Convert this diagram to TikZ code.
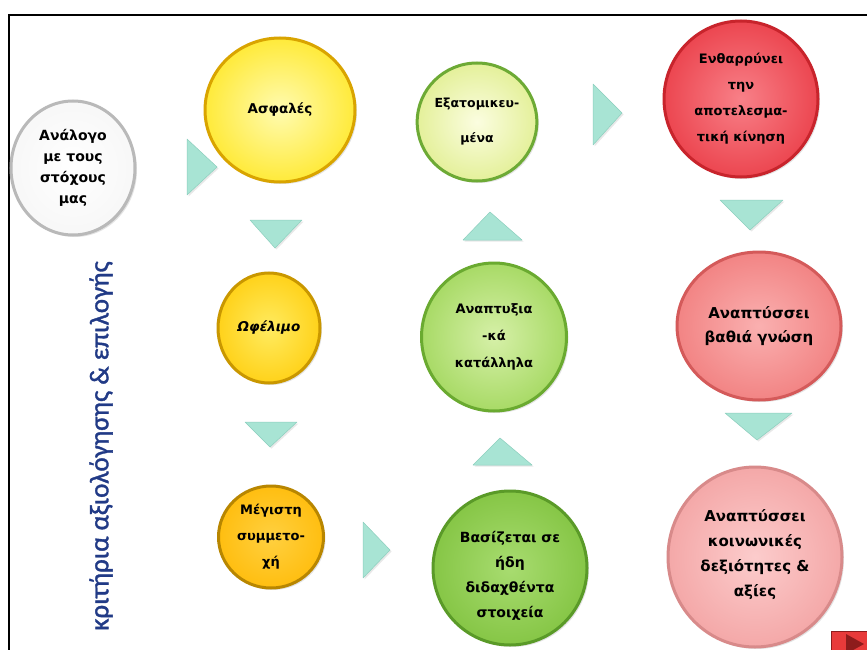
\documentclass[tikz,border=0pt]{standalone}
\usepackage{fontspec}
\setmainfont{DejaVu Sans}
\newfontfamily\vfont[FakeBold=1.3]{Carlito}
\usetikzlibrary{shapes.geometric,shadows}
\definecolor{tricol}{HTML}{A8E4D4}
\definecolor{triedge}{HTML}{8CCFBE}
\definecolor{vblue}{HTML}{213A86}
\definecolor{btnred}{HTML}{E83A3A}
\definecolor{btndark}{HTML}{8E1C1C}
\begin{document}
\begin{tikzpicture}[x=1pt,y=-1pt,
  ball/.style={ellipse, inner sep=0pt, align=center, line width=3pt,
    font=\bfseries\fontsize{13}{25}\selectfont,
    drop shadow={opacity=0.22,shadow xshift=2pt,shadow yshift=-2pt}},
  arrowtri/.style={fill=tricol, draw=triedge, line width=0.5pt, line join=round,
    drop shadow={opacity=0.18,shadow xshift=1.5pt,shadow yshift=-1.5pt}}
]
\useasboundingbox (0,0) rectangle (867,650);
\fill[white] (0,0) rectangle (867,650);
\draw[line width=1.5pt] (9,652) -- (9,15) -- (868,15);

% circles
\node[ball, minimum width=124, minimum height=134, shade, inner color=white, outer color=gray!6, draw=gray!55,
  font=\bfseries\fontsize{14}{21}\selectfont] (n1) at (73,168) {Ανάλογο\\με τους\\στόχους\\μας};
\node[ball, minimum width=150, minimum height=144, shade, inner color={rgb,255:red,255;green,251;blue,176}, outer color={rgb,255:red,255;green,234;blue,58}, draw={rgb,255:red,217;green,164;blue,0},
  font=\bfseries\fontsize{13.5}{25}\selectfont] (n2) at (280,110) {Ασφαλές};
\node[ball, minimum width=102, minimum height=110, shade, inner color={rgb,255:red,255;green,235;blue,96}, outer color={rgb,255:red,255;green,210;blue,26}, draw={rgb,255:red,201;green,151;blue,0},
  font=\bfseries\itshape\fontsize{13.5}{22}\selectfont] (n3) at (269,328) {Ωφέλιμο};
\node[ball, minimum width=105, minimum height=102, shade, inner color={rgb,255:red,255;green,208;blue,64}, outer color={rgb,255:red,255;green,190;blue,16}, draw={rgb,255:red,184;green,134;blue,0},
  font=\bfseries\fontsize{13}{26}\selectfont] (n4) at (271,537) {Μέγιστη\\συμμετο-\\χή};
\node[ball, minimum width=110, minimum height=118, shade, inner color={rgb,255:red,251;green,253;blue,224}, outer color={rgb,255:red,228;green,240;blue,154}, draw={rgb,255:red,109;green,170;blue,53},
  font=\bfseries\fontsize{12.5}{35}\selectfont] (n5) at (477,122) {Εξατομικευ-\\μένα};
\node[ball, minimum width=145, minimum height=148, shade, inner color={rgb,255:red,214;green,240;blue,168}, outer color={rgb,255:red,168;green,218;blue,102}, draw={rgb,255:red,106;green,170;blue,48},
  font=\bfseries\fontsize{13}{27}\selectfont] (n6) at (494,337) {Αναπτυξια\\-κά\\κατάλληλα};
\node[ball, minimum width=154, minimum height=154, shade, inner color={rgb,255:red,168;green,220;blue,112}, outer color={rgb,255:red,134;green,198;blue,70}, draw={rgb,255:red,90;green,154;blue,40}] (n7) at (510,568) {};
\node[align=center, font=\bfseries\fontsize{14}{25}\selectfont] (t7) at (510,576) {Βασίζεται σε\\ήδη\\διδαχθέντα\\στοιχεία};
\node[ball, minimum width=154, minimum height=156, shade, inner color={rgb,255:red,248;green,128;blue,136}, outer color={rgb,255:red,236;green,70;blue,80}, draw={rgb,255:red,200;green,36;blue,44},
  font=\bfseries\fontsize{13}{26}\selectfont] (n8) at (741,99) {Ενθαρρύνει\\την\\αποτελεσμα-\\τική κίνηση};
\node[ball, minimum width=164, minimum height=148, shade, inner color={rgb,255:red,250;green,176;blue,176}, outer color={rgb,255:red,242;green,132;blue,132}, draw={rgb,255:red,212;green,90;blue,90},
  font=\bfseries\fontsize{15}{24}\selectfont] (n9) at (759,326) {Αναπτύσσει\\βαθιά γνώση};
\node[ball, minimum width=174, minimum height=180, shade, inner color={rgb,255:red,252;green,204;blue,204}, outer color={rgb,255:red,244;green,168;blue,168}, draw={rgb,255:red,216;green,138;blue,138}] (n10) at (755,557) {};
\node[align=center, font=\bfseries\fontsize{15}{25}\selectfont] (t10) at (755,555) {Αναπτύσσει\\κοινωνικές\\δεξιότητες \&\\αξίες};

% triangles
\path[arrowtri] (187,139) -- (217,167) -- (187,195) -- cycle;
\path[arrowtri] (250,220) -- (302,220) -- (275,248) -- cycle;
\path[arrowtri] (245,422) -- (297,422) -- (270,447) -- cycle;
\path[arrowtri] (363,522) -- (390,550) -- (363,578) -- cycle;
\path[arrowtri] (473,465) -- (532,465) -- (500,438) -- cycle;
\path[arrowtri] (463,240) -- (522,240) -- (490,212) -- cycle;
\path[arrowtri] (593,84) -- (622,113) -- (593,145) -- cycle;
\path[arrowtri] (720,200) -- (783,200) -- (750,230) -- cycle;
\path[arrowtri] (725,413) -- (792,413) -- (757,440) -- cycle;

% vertical title
\node[rotate=90, text=vblue, font=\vfont\fontsize{27}{30}\selectfont, inner sep=0pt] (title) at (101,446) {κριτήρια αξιολόγησης \& επιλογής};

% red button
\draw[fill=btnred, draw=btndark, line width=1pt] (831,631) rectangle (870,656);
\fill[btndark] (846,634) -- (864,644) -- (846,654) -- cycle;
\end{tikzpicture}
\end{document}
